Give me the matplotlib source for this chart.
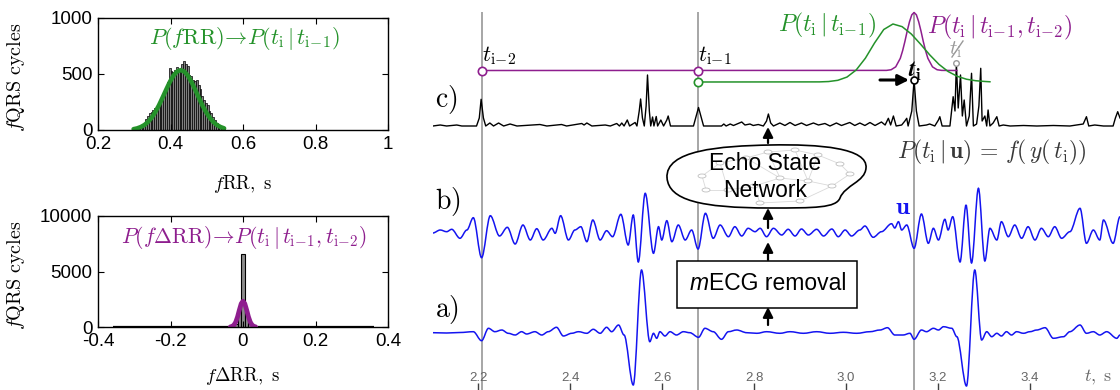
import numpy as np
import matplotlib
matplotlib.use('Agg')
import matplotlib.pyplot as plt
from matplotlib.path import Path
from matplotlib.patches import PathPatch, Rectangle, Ellipse
from matplotlib.lines import Line2D

plt.rcParams['font.family'] = ['Liberation Sans', 'DejaVu Sans']
plt.rcParams['mathtext.fontset'] = 'cm'
plt.rcParams['axes.unicode_minus'] = False

GREEN = '#24922a'
PURPLE = '#8e1e8e'
BLUE = '#1414f0'

# ---- fRR histogram, 5 ms bins ----
rr_first = 0.3025
rr_bin = 0.005
rr_counts = [3, 5, 10, 18, 30, 55, 95, 125, 150, 165,
             180, 195, 210, 245, 275, 300, 320, 380, 430, 550,
             530, 515, 540, 565, 545, 530, 590, 615, 590, 570,
             495, 485, 450, 440, 445, 400, 365, 300, 265, 240,
             220, 170, 150, 120, 85, 60, 40, 25, 15, 8, 4, 2]
rr_fit_x = [0.298, 0.308, 0.318, 0.328, 0.338, 0.348, 0.358, 0.368, 0.378,
            0.388, 0.398, 0.408, 0.418, 0.428, 0.438, 0.448, 0.458, 0.468,
            0.478, 0.488, 0.498, 0.508, 0.518, 0.528, 0.538, 0.548]
rr_fit_y = [8, 15, 27, 45, 72, 110, 160, 220, 289, 360, 428, 485, 522, 535,
            522, 485, 428, 360, 289, 220, 160, 110, 72, 45, 27, 15]

# ---- fdRR histogram ----
drr_core_x = [-0.03, -0.02, -0.01, 0.0, 0.01, 0.02, 0.03]
drr_core_n = [40, 300, 1500, 6600, 1450, 280, 40]
drr_tail_x = [-0.35, -0.33, -0.31, -0.29, -0.27, -0.25, -0.23, -0.21, -0.19,
              -0.17, -0.15, -0.13, -0.11, -0.09, -0.07, -0.05,
              0.05, 0.07, 0.09, 0.11, 0.13, 0.15, 0.17, 0.19, 0.21, 0.23,
              0.25, 0.27, 0.29, 0.31, 0.33, 0.35]
drr_tail_n = [8, 8, 9, 10, 10, 11, 12, 13, 14, 15, 18, 20, 24, 28, 34, 42,
              40, 33, 27, 23, 20, 17, 15, 14, 13, 12, 11, 10, 10, 9, 8, 8]
drr_fit_x = [-0.035, -0.030, -0.025, -0.020, -0.015, -0.010, -0.005, 0.0,
             0.005, 0.010, 0.015, 0.020, 0.025, 0.030, 0.035]
drr_fit_y = [15, 57, 176, 447, 920, 1540, 2100, 2330,
             2100, 1540, 920, 447, 176, 57, 15]

# ---- signals (t in s, amplitude in arbitrary units) ----
# a) and b): successive extrema of the waveforms
trace_a = [(2.101, 0.03), (2.131, 0.0), (2.160, 0.05), (2.189, 0.13), (2.207, -0.77),
           (2.222, 0.47), (2.236, 0.13), (2.251, 0.3), (2.265, -0.03), (2.280, -0.2),
           (2.294, 0.13), (2.305, -0.1), (2.323, 0.13), (2.338, -0.2), (2.352, 0.13),
           (2.370, 0.57), (2.385, -0.3), (2.403, -0.03), (2.418, 0.13), (2.436, -0.03),
           (2.450, 0.37), (2.465, -0.03), (2.479, 0.57), (2.490, 0.13), (2.505, 0.8),
           (2.517, -0.2), (2.537, -5.2), (2.555, 6.3), (2.573, -0.87),
           (2.581, -0.03), (2.588, -0.53), (2.595, 0.13), (2.606, -0.3), (2.617, 0.13),
           (2.631, -0.2), (2.646, 0.13), (2.660, 0.03), (2.679, -0.43), (2.693, 0.47),
           (2.711, 0.13), (2.729, -0.63), (2.744, 0.13), (2.762, 0.3), (2.784, 0.03),
           (2.806, -0.03), (2.827, 0.13), (2.856, -0.03), (2.878, 0.13), (2.907, -0.03),
           (2.936, 0.13), (2.965, -0.03), (2.994, 0.07), (3.023, -0.03), (3.052, 0.13),
           (3.074, 0.3), (3.090, 0.53), (3.106, -0.2), (3.124, -0.2), (3.139, -0.03),
           (3.148, -0.63), (3.164, 0.3), (3.175, 0.13), (3.190, 0.47), (3.201, 0.3),
           (3.212, 0.63), (3.230, 0.47), (3.241, -0.37), (3.262, -5.3),
           (3.280, 6.3), (3.295, -0.7),
           (3.306, 0.13), (3.317, -0.37), (3.328, -0.03), (3.338, -0.3), (3.349, 0.13),
           (3.360, -0.2), (3.371, 0.13), (3.386, -0.03), (3.400, 0.13), (3.415, 0.3),
           (3.433, 0.53), (3.451, -0.53), (3.473, -0.37), (3.487, 0.13), (3.509, 0.8),
           (3.523, -0.03), (3.538, 0.13), (3.552, -0.2), (3.567, 0.13), (3.589, -0.53),
           (3.596, -0.2)]

trace_b = [(2.101, 0.0), (2.117, 0.3), (2.131, 0.13), (2.142, 0.37), (2.160, -0.53),
           (2.175, 0.3), (2.189, 1.53), (2.207, -2.47), (2.226, 1.73), (2.246, -0.3),
           (2.263, 0.57), (2.280, -1.1), (2.297, 0.8), (2.313, -0.7), (2.327, 0.43),
           (2.341, -0.7), (2.360, 0.47), (2.367, -0.03), (2.379, 1.73), (2.396, -0.7),
           (2.410, 0.3), (2.423, 0.63), (2.436, -0.87), (2.449, 1.3), (2.465, -0.7),
           (2.479, 0.23), (2.492, -0.37), (2.510, 1.87), (2.526, -1.2), (2.537, 1.8),
           (2.548, -2.9), (2.563, 3.97), (2.581, -2.03), (2.592, 0.63), (2.599, -0.7),
           (2.610, 1.23), (2.621, -0.87), (2.635, 0.8), (2.650, -0.7), (2.664, 0.3),
           (2.678, -1.6), (2.694, 1.97), (2.711, -0.53), (2.726, 0.8), (2.744, -0.37),
           (2.758, 0.63), (2.773, -0.3), (2.787, 0.47), (2.802, 0.13), (2.813, 0.47),
           (2.827, -0.37), (2.842, 0.47), (2.860, -0.2), (2.874, 0.37), (2.889, -0.3),
           (2.903, 0.4), (2.918, -0.2), (2.936, 0.37), (2.951, -0.3), (2.969, 0.4),
           (2.983, -0.37), (2.998, 0.3), (3.012, -0.3), (3.030, 0.3), (3.041, 0.7),
           (3.059, -0.43), (3.077, 0.13), (3.099, 0.93), (3.106, 0.5), (3.114, 1.13),
           (3.121, 0.3), (3.132, 0.8), (3.148, -1.53), (3.164, 1.9), (3.179, -1.03),
           (3.190, 0.47), (3.201, -0.7), (3.215, 1.37), (3.222, 0.3), (3.232, 1.63),
           (3.248, -2.9), (3.261, 2.8), (3.273, -3.0), (3.288, 4.47), (3.302, -2.8),
           (3.313, 0.47), (3.328, -0.7), (3.338, 1.13), (3.353, -0.37), (3.367, 0.8),
           (3.382, -0.53), (3.396, 0.63), (3.411, -0.7), (3.425, 0.47), (3.440, -0.37),
           (3.454, 0.63), (3.469, -0.53), (3.487, 0.13), (3.509, 2.47), (3.523, -1.03),
           (3.538, 0.3), (3.552, -0.7), (3.560, 1.3), (3.581, -1.03),
           (3.596, 1.63)]

# c): ESN output, piecewise
trace_c = [(2.101, 0), (2.117, 0.1), (2.131, 0), (2.153, 0.1), (2.164, 0), (2.196, 0),
           (2.202, 0.8), (2.206, 2.67), (2.211, 0.8), (2.216, 0), (2.225, 0.3), (2.233, 0),
           (2.244, 0.3), (2.255, 0), (2.269, 0.2), (2.284, 0), (2.334, 0.15), (2.349, 0),
           (2.381, 0.15), (2.392, 0), (2.425, 0.25), (2.430, 0.1), (2.436, 0.3), (2.447, 0),
           (2.476, 0.1), (2.487, 0), (2.501, 0.25), (2.507, 0), (2.512, 0.3), (2.517, 0),
           (2.524, 0.6), (2.529, 0), (2.541, 0.35), (2.545, 0), (2.550, 1.5), (2.553, 2.7),
           (2.557, 0.8), (2.561, 0), (2.565, 2.0), (2.568, 5.1), (2.572, 1.5), (2.575, 0),
           (2.579, 0.9), (2.582, 0), (2.587, 0.95), (2.590, 0), (2.597, 0.6), (2.603, 0),
           (2.610, 0.6), (2.613, 1.0), (2.618, 0), (2.632, 0), (2.668, 0), (2.674, 1.0),
           (2.679, 1.85), (2.684, 1.0), (2.690, 0), (2.729, 0), (2.734, 0.2), (2.739, 0),
           (2.748, 0.2), (2.755, 0.05), (2.773, 0.4), (2.780, 0.1), (2.791, 0.2), (2.798, 0.05),
           (2.809, 0.15), (2.820, 0), (2.827, 0.5), (2.831, 1.2), (2.836, 0.3), (2.842, 0),
           (2.856, 0.3), (2.867, 0.05), (2.878, 0.35), (2.889, 0.05), (2.903, 0.3), (2.914, 0.05),
           (2.929, 0.3), (2.940, 0.1), (2.954, 0.25), (2.965, 0), (2.979, 0.3), (2.990, 0.05),
           (3.008, 0.35), (3.019, 0.05), (3.030, 0.3), (3.041, 0.05), (3.052, 0.35), (3.063, 0.05),
           (3.077, 0.4), (3.085, 0.1), (3.092, 0.77), (3.097, 0.1), (3.103, 1.0), (3.109, 0),
           (3.121, 0.1), (3.128, 0.5), (3.132, 0.77), (3.135, 0), (3.143, 1.5), (3.148, 4.6),
           (3.153, 1.5), (3.159, 0), (3.175, 0.1), (3.182, 0.2), (3.193, 0), (3.201, 0.6),
           (3.204, 0.93), (3.209, 0), (3.226, 0), (3.233, 2.93), (3.237, 1.5), (3.240, 6.27),
           (3.244, 1.8), (3.249, 5.1), (3.253, 1.0), (3.257, 2.6), (3.262, 0), (3.268, 1.0),
           (3.273, 5.27), (3.277, 0), (3.284, 0.2), (3.289, 2.0), (3.293, 5.77), (3.296, 0.5),
           (3.302, 1.0), (3.306, 0), (3.309, 1.6), (3.313, 0), (3.320, 0.3), (3.328, 0.93),
           (3.333, 0), (3.342, 0.1), (3.357, 0), (3.386, 0.05), (3.415, 0), (3.451, 0.05),
           (3.487, 0), (3.516, 0.2), (3.523, 0.93), (3.528, 0), (3.541, 0.1), (3.560, 0),
           (3.581, 0), (3.586, 0.8), (3.591, 1.43), (3.596, 0.8)]

# detected beats and prior curves (normalised to peak 1)
beats = [2.208, 2.678, 3.148]
rejected = 3.240
prior_rr_t = [2.678, 2.942, 2.962, 2.982, 3.002, 3.022, 3.042, 3.062, 3.082, 3.102,
              3.122, 3.142, 3.162, 3.182, 3.202, 3.222, 3.242, 3.262, 3.282, 3.302, 3.313]
prior_rr_p = [0, 0.002, 0.008, 0.029, 0.085, 0.207, 0.41, 0.673, 0.905, 1.0,
              0.954, 0.827, 0.653, 0.468, 0.305, 0.181, 0.098, 0.048, 0.022, 0.009, 0.004]
prior_drr_t = [2.208, 3.088, 3.098, 3.108, 3.118, 3.123, 3.128, 3.133, 3.138, 3.143, 3.148,
               3.153, 3.158, 3.163, 3.168, 3.173, 3.178, 3.188, 3.198, 3.208, 3.241]
prior_drr_p = [0, 0.002, 0.013, 0.063, 0.21, 0.34, 0.50, 0.68, 0.84, 0.96, 1.0,
               0.96, 0.84, 0.68, 0.50, 0.34, 0.21, 0.063, 0.013, 0.002, 0]

t_ticks = [2.2, 2.4, 2.6, 2.8, 3.0, 3.2, 3.4]
t_labels = ['2.2', '2.4', '2.6', '2.8', '3.0', '3.2', '3.4']

fig = plt.figure(figsize=(11.2, 3.9), dpi=100)


def style_hist(ax):
    ax.tick_params(direction='in', length=4, width=0.8, top=True, right=True,
                   labelsize=13.5, pad=4)
    for s in ax.spines.values():
        s.set_linewidth(1.0)


# top-left: fRR
ax1 = fig.add_axes([98 / 1120, 1 - 130 / 390, 290 / 1120, 112 / 390])
rr_x = rr_first + rr_bin * np.arange(len(rr_counts))
ax1.bar(rr_x, rr_counts, width=rr_bin, color='0.5', edgecolor='k', linewidth=0.5)
ax1.plot(rr_fit_x, rr_fit_y, color=GREEN, lw=3.2, solid_capstyle='round')
ax1.set_xlim(0.2, 1)
ax1.set_ylim(0, 1000)
ax1.set_xticks([0.2, 0.4, 0.6, 0.8, 1.0])
ax1.set_xticklabels(['0.2', '0.4', '0.6', '0.8', '1'])
ax1.set_yticks([0, 500, 1000])
style_hist(ax1)
ax1.set_ylabel(r'$f\mathrm{QRS\ cycles}$', fontsize=14.5)
ax1.yaxis.set_label_coords(-0.245, 0.47)
ax1.set_xlabel(r'$f\mathrm{RR},\ \mathrm{s}$', fontsize=13.5)
ax1.xaxis.set_label_coords(0.5, -0.38)
ax1.text(0.505, 0.82,
         r'$P(f\mathrm{RR})\!\rightarrow\! P(t_{\mathrm{i}}\,|\,t_{\mathrm{i}\!-\!1})$',
         color=GREEN, fontsize=16, ha='center', va='center', transform=ax1.transAxes)

# bottom-left: fdRR
ax2 = fig.add_axes([98 / 1120, 1 - 327 / 390, 290 / 1120, 111 / 390])
ax2.bar(drr_tail_x, drr_tail_n, width=0.02, color='0.5', edgecolor='k', linewidth=1.6)
ax2.bar(drr_core_x, drr_core_n, width=0.01, color='0.55', edgecolor='k', linewidth=0.8)
ax2.plot(drr_fit_x, drr_fit_y, color=PURPLE, lw=3.4, solid_capstyle='round')
ax2.set_xlim(-0.4, 0.4)
ax2.set_ylim(0, 10000)
ax2.set_xticks([-0.4, -0.2, 0, 0.2, 0.4])
ax2.set_xticklabels(['-0.4', '-0.2', '0', '0.2', '0.4'])
ax2.set_yticks([0, 5000, 10000])
style_hist(ax2)
ax2.set_ylabel(r'$f\mathrm{QRS\ cycles}$', fontsize=14.5)
ax2.yaxis.set_label_coords(-0.245, 0.47)
ax2.set_xlabel(r'$f\Delta\mathrm{RR},\ \mathrm{s}$', fontsize=13.5)
ax2.xaxis.set_label_coords(0.5, -0.345)
ax2.text(0.505, 0.81,
         r'$P(f\Delta\mathrm{RR})\!\rightarrow\! P(t_{\mathrm{i}}\,|\,t_{\mathrm{i}\!-\!1},'
         r't_{\mathrm{i}\!-\!2})$',
         color=PURPLE, fontsize=15.5, ha='center', va='center', transform=ax2.transAxes)

# right: signals
ax = fig.add_axes([433 / 1120, 0, 687 / 1120, 1])
ax.set_xlim(2.1013, 3.596)
ax.set_ylim(0, 390)
for s in ax.spines.values():
    s.set_visible(False)
ax.set_yticks([])
ax.set_xticks(t_ticks)
ax.set_xticklabels(t_labels)
ax.tick_params(axis='x', direction='in', length=5, width=1.0, color='0.25',
               pad=-13, labelsize=9.5, labelcolor='0.4')


def P(px, py):
    # figure pixel -> data coordinates of the right panel
    return (2.2 + (px - 478.3) / 459.7, 390 - py)


def smooth(t, v):
    # cubic segments with flat tangents at each extremum
    verts = [(t[0], v[0])]
    codes = [Path.MOVETO]
    for i in range(1, len(t)):
        d = (t[i] - t[i - 1]) / 3
        verts += [(t[i - 1] + d, v[i - 1]), (t[i] - d, v[i]), (t[i], v[i])]
        codes += [Path.CURVE4] * 3
    return Path(verts, codes)


base_a, base_b, base_c, gain = 57, 157, 264, 10
ax.vlines(beats, 0, 378, color='0.65', lw=1.4, zorder=0)

ta, va_ = np.array(trace_a).T
tb, vb = np.array(trace_b).T
tc, vc = np.array(trace_c).T
ax.add_patch(PathPatch(smooth(ta, base_a + gain * va_), fill=False, edgecolor=BLUE, lw=1.1, zorder=2))
ax.add_patch(PathPatch(smooth(tb, base_b + gain * vb), fill=False, edgecolor=BLUE, lw=1.1, zorder=2))
ax.plot(tc, base_c + gain * vc, color='k', lw=1.0, zorder=2)

lvl_drr, lvl_rr, amp_prior = 319.5, 308, 58
ax.plot(prior_drr_t, lvl_drr + amp_prior * np.array(prior_drr_p), color=PURPLE, lw=1.1, zorder=3)
ax.plot(prior_rr_t, lvl_rr + amp_prior * np.array(prior_rr_p), color=GREEN, lw=1.1, zorder=3)
ax.plot(beats[:2], [lvl_drr, lvl_drr], 'o', mfc='white', mec=PURPLE, ms=6, mew=1.2, zorder=4)
ax.plot(beats[1], lvl_rr, 'o', mfc='white', mec=GREEN, ms=6, mew=1.2, zorder=4)
ax.plot(beats[2], base_c + gain * 4.6, 'o', mfc='white', mec='k', ms=5, mew=1.2, zorder=4)
ax.plot(rejected, base_c + gain * 6.27, 'o', mfc='white', mec='0.6', ms=4, mew=1.0, zorder=4)

ax.text(*P(435, 100), r'$\mathrm{c)}$', ha='left', va='center', fontsize=20)
ax.text(*P(435, 202), r'$\mathrm{b)}$', ha='left', va='center', fontsize=20)
ax.text(*P(435, 310), r'$\mathrm{a)}$', ha='left', va='center', fontsize=20)

ax.text(*P(482, 67), r'$t_{\mathrm{i}\!-\!2}$', ha='left', va='bottom', fontsize=16)
ax.text(*P(698, 67), r'$t_{\mathrm{i}\!-\!1}$', ha='left', va='bottom', fontsize=16)
lab_ti = ax.text(*P(908, 83), r'$\mathbfit{t}_{\mathbf{i}}$', ha='left', va='bottom', fontsize=17)
ax.text(*P(949, 60), r'$t_{\mathrm{i}}$', ha='left', va='bottom', fontsize=15, color='0.6')
ax.add_line(Line2D(*zip(P(952, 57), P(963, 41)), color='0.6', lw=1.0))

ax.text(*P(827, 25), r'$P(t_{\mathrm{i}}\,|\,t_{\mathrm{i}\!-\!1})$', color=GREEN, fontsize=17,
        ha='center', va='center')
ax.text(*P(1000, 27), r'$P(t_{\mathrm{i}}\,|\,t_{\mathrm{i}\!-\!1},t_{\mathrm{i}\!-\!2})$',
        color=PURPLE, fontsize=17, ha='center', va='center')
ax.text(*P(992, 152), r'$P(t_{\mathrm{i}}\,|\,\mathbf{u})\,=\,f(\,y(\,t_{\mathrm{i}}))$',
        color='0.22', fontsize=17, ha='center', va='center')
ax.text(*P(903, 207), r'$\mathbf{u}$', color=BLUE, fontsize=18, ha='center', va='center')
ax.text(*P(1084, 377), r'$t,\ \mathrm{s}$', color='0.4', fontsize=13, ha='left', va='center')

# arrows
ax.annotate('', xy=P(909, 80), xytext=P(880, 80),
            arrowprops=dict(arrowstyle='-|>', lw=2.2, color='k', mutation_scale=16,
                            shrinkA=0, shrinkB=0), zorder=5)
for y0, y1 in [(325, 307), (260, 242), (228, 208), (143, 127)]:
    ax.annotate('', xy=P(768, y1), xytext=P(768, y0),
                arrowprops=dict(arrowstyle='-|>', lw=1.6, color='k', mutation_scale=15,
                                shrinkA=0, shrinkB=0), zorder=5)

# echo state network blob
blob_px = [(667, 178), (665, 150), (720, 146), (770, 145), (820, 144), (868, 148), (866, 168),
           (865, 182), (845, 185), (840, 198), (836, 208), (815, 208), (770, 208),
           (700, 208), (669, 200), (667, 178)]
codes = [Path.MOVETO] + [Path.CURVE4] * 15
blob = Path([P(*p) for p in blob_px], codes)
ax.add_patch(PathPatch(blob, facecolor='white', edgecolor='k', lw=1.2, zorder=4))
nodes = [(702, 176), (720, 163), (746, 158), (768, 152), (795, 150), (818, 155), (840, 164),
         (850, 174), (832, 186), (808, 181), (780, 178), (754, 186), (728, 190), (760, 203),
         (800, 201), (706, 190)]
edges = [(0, 1), (1, 2), (2, 3), (3, 4), (4, 5), (5, 6), (6, 7), (7, 8), (8, 9), (9, 10),
         (10, 11), (11, 12), (12, 15), (15, 0), (2, 10), (4, 9), (11, 13), (13, 14), (14, 8),
         (1, 12), (3, 10), (5, 9)]
for i, j in edges:
    ax.add_line(Line2D(*zip(P(*nodes[i]), P(*nodes[j])), color='0.85', lw=0.6, zorder=4.1))
for n in nodes:
    cx, cy = P(*n)
    ax.add_patch(Ellipse((cx, cy), 8 / 459.7, 4, facecolor='white', edgecolor='0.75',
                         lw=0.6, zorder=4.2))
ax.text(*P(765, 177), 'Echo State\nNetwork', fontsize=16.5, ha='center', va='center',
        linespacing=1.2, zorder=5)

# mECG removal box
x0, y0 = P(677, 308)
x1, y1 = P(857, 261)
ax.add_patch(Rectangle((x0, y0), x1 - x0, y1 - y0, facecolor='white', edgecolor='k',
                       lw=1.1, zorder=4))
ax.text(*P(709, 284), 'm', style='italic', fontsize=16.5, ha='right', va='center', zorder=5)
ax.text(*P(709, 284), 'ECG removal', fontsize=16.5, ha='left', va='center', zorder=5)

try:
    fig.canvas.draw()
except ValueError:
    lab_ti.set_text(r'$\mathbf{t}_{\mathbf{i}}$')

fig.savefig('out.png', dpi=100)
